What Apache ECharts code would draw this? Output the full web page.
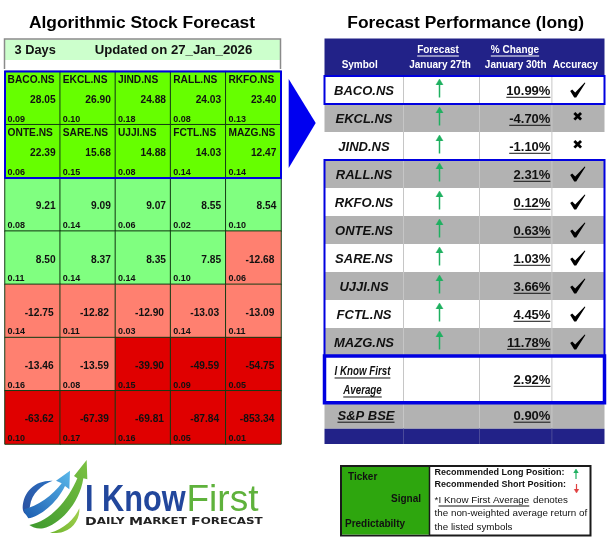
<!DOCTYPE html>
<html>
<head>
<meta charset="utf-8">
<title>Algorithmic Stock Forecast</title>
<style>
html,body{margin:0;padding:0;background:#fff;}
#chart{width:612px;height:545px;}
</style>
<script src="https://cdn.jsdelivr.net/npm/echarts@6/dist/echarts.min.js"></script>
</head>
<body>
<div id="chart"></div>
<script>
// forecast heatmap
var tickers = ['BACO.NS','EKCL.NS','JIND.NS','RALL.NS','RKFO.NS','ONTE.NS','SARE.NS','UJJI.NS','FCTL.NS','MAZG.NS'];
var signals = [
  28.05,26.90,24.88,24.03,23.40,
  22.39,15.68,14.88,14.03,12.47,
  9.21,9.09,9.07,8.55,8.54,
  8.50,8.37,8.35,7.85,-12.68,
  -12.75,-12.82,-12.90,-13.03,-13.09,
  -13.46,-13.59,-39.90,-49.59,-54.75,
  -63.62,-67.39,-69.81,-87.84,-853.34
];
var predictability = [
  0.09,0.10,0.18,0.08,0.13,
  0.06,0.15,0.08,0.14,0.14,
  0.08,0.14,0.06,0.02,0.10,
  0.11,0.14,0.14,0.10,0.06,
  0.14,0.11,0.03,0.14,0.11,
  0.16,0.08,0.15,0.09,0.05,
  0.10,0.17,0.16,0.05,0.01
];
// performance table
var symbols = ['BACO.NS','EKCL.NS','JIND.NS','RALL.NS','RKFO.NS','ONTE.NS','SARE.NS','UJJI.NS','FCTL.NS','MAZG.NS'];
var changes = [10.99,-4.70,-1.10,2.31,0.12,0.63,1.03,3.66,4.45,11.78];
var hits = [1,0,0,1,1,1,1,1,1,1];
var averageChange = 2.92;
var benchmarkChange = 0.90;

// table layout, 1 row unit = one symbol row
var rowSpans = [1.339,1,1,1,1,1,1,1,1,1,1,1.667,0.93,0.546];
var colSpans = [79,76,72.4,52.6];
var colEnd = colSpans.reduce(function(a,b){return a+b;},0);
var rowTop = [0];
rowSpans.forEach(function(s,i){rowTop[i+1]=rowTop[i]+s;});
var colEdge = [0];
colSpans.forEach(function(s,i){colEdge[i+1]=colEdge[i]+s;});

var BLUE = '#0000e0';
var NAVY = '#222288';
var GREY = '#b2b2b2';
var ARROW = '#1fb060';

var measure = document.createElement('canvas').getContext('2d');

// zrender has no text underline so it is drawn as a line under the text
function underlined(text,x,y,font,align,color){
  measure.font = font;
  var w = measure.measureText(text).width;
  var x0 = align=='right' ? x-w : (align=='center' ? x-w/2 : x);
  return [
    {type:'text',silent:true,style:{text:text,x:x,y:y,font:font,fill:color||'#111',align:align,verticalAlign:'middle'}},
    {type:'line',silent:true,shape:{x1:x0,y1:y+6,x2:x0+w,y2:y+6},style:{stroke:color||'#111',lineWidth:1}}
  ];
}
// no narrow font installed, squeeze the normal one
function squeezed(text,x,y,font,sx){
  measure.font = font;
  var w = measure.measureText(text).width*sx;
  return [
    {type:'text',silent:true,x:x,y:y,scaleX:sx,style:{text:text,x:0,y:0,font:font,fill:'#111',align:'center',verticalAlign:'middle'}},
    {type:'line',silent:true,shape:{x1:x-w/2,y1:y+7,x2:x+w/2,y2:y+7},style:{stroke:'#111',lineWidth:1}}
  ];
}
function plain(text,x,y,font,align,color){
  return {type:'text',silent:true,style:{text:text,x:x,y:y,font:font,fill:color||'#111',align:align||'left',verticalAlign:'middle'}};
}
function arrow(x,y0,y1,color,lw,head){
  var d = y1<y0 ? head : -head;
  return {type:'polyline',silent:true,shape:{points:[[x-head*0.6,y1+d],[x,y1],[x+head*0.6,y1+d]]},style:{fill:color,stroke:color,lineWidth:0.5}};
}
function shaft(x,y0,y1,color,lw){
  return {type:'line',silent:true,shape:{x1:x,y1:y0,x2:x,y2:y1},style:{stroke:color,lineWidth:lw}};
}
function tick(cx,cy){
  var pts = [[-7.5,1],[-5.5,-0.5],[-2.5,2.5],[7,-7.5],[7.7,-7],[-1.5,7.5],[-3.5,7.5]];
  return {type:'polygon',silent:true,shape:{points:pts.map(function(p){return [cx+p[0],cy+p[1]];})},style:{fill:'#000'}};
}

function perfRow(params,api){
  var i = api.value(1);
  var y0 = rowTop[i], y1 = rowTop[i+1];
  var tl = api.coord([0,y0]), br = api.coord([colEnd,y1]);
  var xs = colEdge.map(function(v){return api.coord([v,y0])[0];});
  var top = tl[1], bot = br[1], mid = (top+bot)/2;
  var fill = (i==0||i==13) ? NAVY : (i%2==1 ? '#ffffff' : GREY);
  var kids = [{type:'rect',silent:true,shape:{x:tl[0],y:top,width:br[0]-tl[0],height:bot-top},style:{fill:fill}}];
  if(i>0){
    for(var c=1;c<4;c++){
      kids.push({type:'line',silent:true,shape:{x1:xs[c],y1:top,x2:xs[c],y2:bot},style:{stroke:i==13?'#4a4a9a':'#c6c6c6',lineWidth:1}});
    }
  }
  var f13 = 'bold 13px "Liberation Sans"';
  var fi13 = 'italic bold 13px "Liberation Sans"';
  var fh = 'bold 10px "Liberation Sans"';
  if(i==0){
    kids.push(plain('Symbol',359.7,65.7,fh,'center','#fff'));
    kids = kids.concat(underlined('Forecast',438,50,fh,'center','#fff'));
    kids.push(plain('January 27th',440,65.7,fh,'center','#fff'));
    kids = kids.concat(underlined('% Change',515,50,fh,'center','#fff'));
    kids.push(plain('January 30th',515.7,65.7,fh,'center','#fff'));
    kids.push(plain('Accuracy',575.3,65.7,fh,'center','#fff'));
  } else if(i<=10){
    var n = i-1;
    kids.push(plain(symbols[n],(xs[0]+xs[1])/2,mid+1.3,fi13,'center'));
    var ax = (xs[1]+xs[2])/2-2;
    kids.push(shaft(ax,top+21.5,top+5,ARROW,1.5));
    kids.push(arrow(ax,top+21.5,top+3,ARROW,1.5,6));
    kids = kids.concat(underlined(changes[n].toFixed(2)+'%',xs[3]-1.5,mid+1.3,f13,'right'));
    if(hits[n]){
      kids.push(tick((xs[3]+xs[4])/2-0.5,mid));
    } else {
      kids.push(plain('\u2716',(xs[3]+xs[4])/2-0.5,mid,'13px "DejaVu Sans"','center','#000'));
    }
  } else if(i==11){
    var fn = 'italic bold 13px "Liberation Sans"';
    kids = kids.concat(squeezed('I Know First',(xs[0]+xs[1])/2-1.5,top+15,fn,0.75));
    kids = kids.concat(squeezed('Average',(xs[0]+xs[1])/2-1.5,top+34,fn,0.75));
    kids = kids.concat(underlined(averageChange.toFixed(2)+'%',xs[3]-1.5,mid+1,f13,'right'));
  } else if(i==12){
    kids = kids.concat(underlined('S&P BSE',(xs[0]+xs[1])/2+2,mid+0.5,fi13,'center'));
    kids = kids.concat(underlined(benchmarkChange.toFixed(2)+'%',xs[3]-1.5,mid+0.5,f13,'right'));
  }
  return {type:'group',children:kids};
}

// blue outlines around the recommended rows
function perfBox(params,api){
  var a = api.value(0), b = api.value(1), lw = api.value(2);
  var p0 = api.coord([0,rowTop[a]]), p1 = api.coord([colEnd,rowTop[b+1]]);
  return {type:'rect',silent:true,shape:{x:p0[0],y:p0[1],width:p1[0]-p0[0],height:p1[1]-p0[1]},style:{fill:'none',stroke:BLUE,lineWidth:lw}};
}
function forecastBox(params,api){
  var size = api.size([1,1]);
  var p0 = api.coord([api.value(0),api.value(1)]), p1 = api.coord([api.value(2),api.value(3)]);
  return {type:'rect',silent:true,shape:{x:p0[0]-size[0]/2,y:p0[1]-size[1]/2,width:p1[0]-p0[0]+size[0],height:p1[1]-p0[1]+size[1]},style:{fill:'none',stroke:BLUE,lineWidth:2}};
}

var cells = signals.map(function(v,i){return [i%5,Math.floor(i/5),v];});

var logoPaths = [
  {d:'M68 172 C70 125 105 90 158 92 C125 104 95 130 90 168 C88 182 82 196 76 192 C70 188 68 180 68 172Z',a:'#2c4f9e',b:'#2a6fc0'},
  {d:'M72 178 C110 170 160 135 185 100 L168 92 L210 62 L208 118 L195 108 C170 160 120 200 85 205 C78 195 72 187 72 178Z',a:'#1c5cb0',b:'#5ab8ea'},
  {d:'M88 225 C150 215 205 150 232 85 L222 78 L260 30 L262 88 L250 85 C238 165 175 225 130 235 C112 238 97 232 88 225Z',a:'#3f9a2f',b:'#7cc242'},
  {d:'M150 248 C190 240 225 205 238 175 C240 200 225 235 190 245 C175 250 160 250 150 248Z',a:'#6fb52f',b:'#a3d050'}
];
logoPaths.forEach(function(p,i){
  echarts.graphic.registerShape('logo'+i,echarts.graphic.extendPath(p.d,{}));
});

var graphics = [
  // left header band
  {type:'rect',silent:true,shape:{x:5,y:39.5,width:275.5,height:20.5},style:{fill:'#ccffcc'}},
  {type:'polyline',silent:true,shape:{points:[[4.5,69],[4.5,39],[280.5,39],[280.5,69]]},style:{fill:'none',stroke:'#8a8a8a',lineWidth:1.5}},
  plain('3 Days',14.5,50.5,'bold 12.8px "Liberation Sans"','left'),
  plain('Updated on 27_Jan_2026',94.7,50.5,'bold 13.2px "Liberation Sans"','left'),
  // big arrow between the panels
  {type:'polygon',silent:true,shape:{points:[[288.7,79],[315.7,123],[288.7,168]]},style:{fill:'#0000f0'}},
  // legend box
  {type:'rect',silent:true,shape:{x:341,y:466,width:249.5,height:69.5},style:{fill:'#fff',stroke:'#1a1a1a',lineWidth:2}},
  {type:'rect',silent:true,shape:{x:342,y:467,width:87,height:67.5},style:{fill:'#2ea60e'}},
  {type:'line',silent:true,shape:{x1:429.5,y1:466,x2:429.5,y2:535},style:{stroke:'#1a1a1a',lineWidth:1.5}},
  plain('Ticker',348,477,'bold 10px "Liberation Sans"','left'),
  plain('Signal',421,499,'bold 10px "Liberation Sans"','right'),
  plain('Predictabilty',345,524.5,'bold 10px "Liberation Sans"','left'),
  plain('Recommended Long Position:',434.6,473,'bold 9px "Liberation Sans"','left'),
  plain('Recommended Short Position:',434.6,485,'bold 9px "Liberation Sans"','left'),
  shaft(576,479,471,ARROW,1.2),
  arrow(576,479,469,ARROW,1.2,4),
  shaft(576.5,484,491,'#e04040',1.2),
  arrow(576.5,484,493,'#e04040',1.2,4),
  plain('*',434.6,500,'9.8px "Liberation Sans"','left')
].concat(
  underlined('I Know First Average',438.5,500,'9.8px "Liberation Sans"','left'),
  [
    plain('denotes',533,500,'9.8px "Liberation Sans"','left'),
    plain('the non-weighted average return of',434.6,513.5,'9.8px "Liberation Sans"','left'),
    plain('the listed symbols',434.6,527,'9.8px "Liberation Sans"','left')
  ],
  // logo
  logoPaths.map(function(p,i){
    return {type:'logo'+i,silent:true,x:0,y:450,scaleX:1/3,scaleY:1/3,
      style:{fill:new echarts.graphic.LinearGradient(0,1,1,0,[{offset:0,color:p.a},{offset:1,color:p.b}])}};
  }),
  [
    {type:'text',silent:true,x:85,y:501,scaleX:0.83,style:{text:'I Know',font:'bold 37px "Liberation Sans"',fill:'#22479c',align:'left',verticalAlign:'middle'}},
    {type:'text',silent:true,x:186.5,y:501,style:{text:'First',font:'37px "Liberation Sans"',fill:'#5fb23c',align:'left',verticalAlign:'middle'}},
    {type:'text',silent:true,x:85,y:522,scaleX:1.28,style:{
      text:'{a|D}{b|AILY} {a|M}{b|ARKET} {a|F}{b|ORECAST}',align:'left',verticalAlign:'middle',
      rich:{a:{font:'bold 11px "DejaVu Sans"',fill:'#222'},b:{font:'bold 9.3px "DejaVu Sans"',fill:'#222'}}
    }}
  ]
);

var chart = echarts.init(document.getElementById('chart'),null,{renderer:'canvas'});
chart.setOption({
  animation:false,
  backgroundColor:'#fff',
  title:[
    {text:'Algorithmic Stock Forecast',left:137,top:10,textAlign:'center',textStyle:{fontFamily:'Liberation Sans',fontWeight:'bold',fontSize:17.4,color:'#000'}},
    {text:'Forecast Performance (long)',left:460.7,top:10,textAlign:'center',textStyle:{fontFamily:'Liberation Sans',fontWeight:'bold',fontSize:17.4,color:'#000'}}
  ],
  grid:[
    {left:5,top:71.5,width:276,height:372.5},
    {left:324.5,top:38.5,width:colEnd,height:rowTop[rowSpans.length]*28}
  ],
  xAxis:[
    {type:'category',gridIndex:0,data:[0,1,2,3,4],show:false},
    {type:'value',gridIndex:1,min:0,max:colEnd,show:false}
  ],
  yAxis:[
    {type:'category',gridIndex:0,data:[0,1,2,3,4,5,6],inverse:true,show:false},
    {type:'value',gridIndex:1,min:0,max:rowTop[rowSpans.length],inverse:true,show:false}
  ],
  visualMap:{
    show:false,type:'piecewise',seriesIndex:0,dimension:2,
    pieces:[
      {min:10,color:'#66ff00'},
      {min:0,max:10,color:'#80ff80'},
      {min:-20,max:0,color:'#ff8070'},
      {max:-20,color:'#e00000'}
    ]
  },
  series:[
    {
      name:'Forecast',type:'heatmap',xAxisIndex:0,yAxisIndex:0,data:cells,
      itemStyle:{borderColor:'#143c14',borderWidth:1},
      emphasis:{disabled:true},
      label:{
        show:true,width:48,offset:[-1,1],
        formatter:function(p){
          var i = p.dataIndex, v = signals[i];
          var t = i<tickers.length ? tickers[i] : ' ';
          return '{t|'+t+'}\n{'+(v<0?'n':'s')+'|'+v.toFixed(2)+'}\n{p|'+predictability[i].toFixed(2)+'}';
        },
        rich:{
          t:{fontFamily:'Liberation Sans',fontWeight:'bold',fontSize:10.2,lineHeight:18,color:'#111',align:'left'},
          s:{fontFamily:'Liberation Sans',fontWeight:'bold',fontSize:10.2,lineHeight:22,color:'#111',align:'right'},
          n:{fontFamily:'Liberation Sans',fontWeight:'bold',fontSize:10.2,lineHeight:22,color:'#111',align:'right',padding:[0,2,0,0]},
          p:{fontFamily:'Liberation Sans',fontWeight:'bold',fontSize:9,lineHeight:16,color:'#111',align:'left'}
        }
      }
    },
    {
      name:'Recommended',type:'custom',xAxisIndex:0,yAxisIndex:0,silent:true,z:5,
      renderItem:forecastBox,data:[[0,0,4,1]]
    },
    {
      name:'Performance',type:'custom',xAxisIndex:1,yAxisIndex:1,silent:true,
      renderItem:perfRow,encode:{x:0,y:1},
      data:rowSpans.map(function(s,i){return [0,i];})
    },
    {
      name:'Outlines',type:'custom',xAxisIndex:1,yAxisIndex:1,silent:true,z:5,
      renderItem:perfBox,encode:{x:[],y:[]},
      data:[[1,1,2],[4,10,2],[11,11,3.5]]
    }
  ],
  graphic:{elements:graphics}
});
</script>
</body>
</html>
